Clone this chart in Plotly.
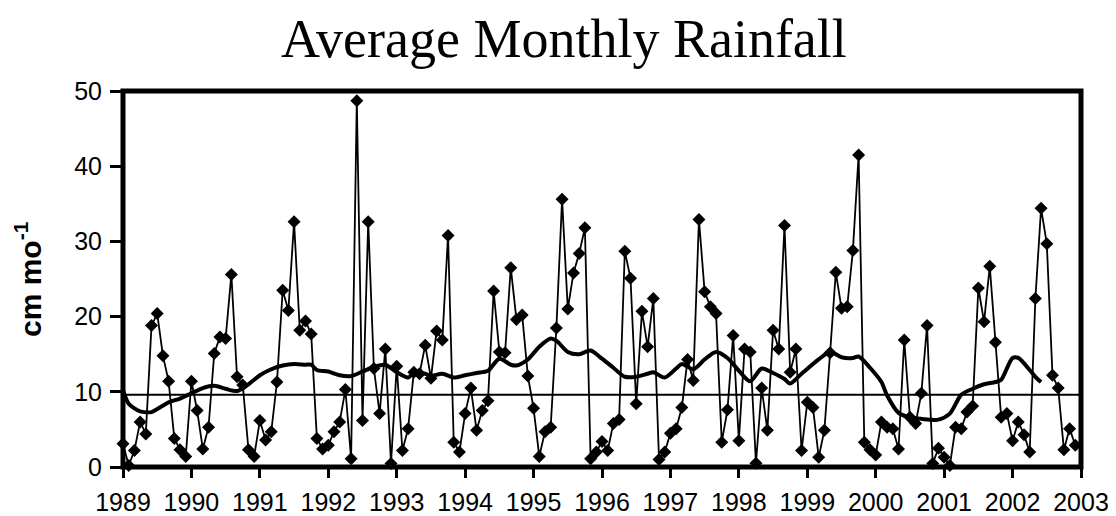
import plotly.graph_objects as go

# Monthly rainfall (cm/mo), Jan 1989 .. Dec 2002, month index 0..167
rain = [3.1, 0.2, 2.2, 6.0, 4.4, 18.8, 20.4, 14.8, 11.4, 3.8, 2.3, 1.4,
        11.4, 7.5, 2.4, 5.3, 15.1, 17.3, 17.1, 25.6, 12.0, 10.9, 2.3, 1.4,
        6.2, 3.6, 4.7, 11.3, 23.5, 20.8, 32.6, 18.2, 19.4, 17.7, 3.8, 2.4,
        2.9, 4.7, 6.0, 10.3, 1.1, 48.7, 6.2, 32.6, 13.1, 7.1, 15.7, 0.45,
        13.4, 2.2, 5.1, 12.6, 12.4, 16.2, 11.8, 18.1, 16.9, 30.8, 3.3, 2.0,
        7.1, 10.5, 4.9, 7.5, 8.8, 23.4, 15.3, 15.2, 26.5, 19.6, 20.2, 12.1,
        7.8, 1.4, 4.7, 5.3, 18.5, 35.6, 21.0, 25.8, 28.4, 31.8, 1.1, 2.0,
        3.4, 2.2, 5.8, 6.3, 28.7, 25.1, 8.4, 20.7, 16.0, 22.4, 1.0, 2.0,
        4.5, 5.1, 7.9, 14.3, 11.5, 32.9, 23.3, 21.3, 20.4, 3.3, 7.6, 17.5,
        3.5, 15.7, 15.3, 0.5, 10.5, 4.9, 18.2, 15.7, 32.1, 12.6, 15.7, 2.2,
        8.6, 7.9, 1.3, 4.9, 15.2, 25.9, 21.1, 21.3, 28.8, 41.5, 3.3, 2.3,
        1.6, 6.0, 5.3, 5.1, 2.4, 16.9, 6.6, 5.8, 9.8, 18.8, 0.45, 2.5,
        1.3, 0.2, 5.3, 5.1, 7.3, 8.1, 23.8, 19.3, 26.7, 16.6, 6.6, 7.1,
        3.5, 6.0, 4.3, 2.0, 22.4, 34.4, 29.7, 12.2, 10.5, 2.3, 5.1, 2.9]
months = list(range(len(rain)))

# Smoothed (running mean) curve
smooth_x = [0, 1, 2, 3, 5, 6, 8, 10, 12, 14, 16, 18, 20, 22, 24, 26, 28, 30, 32, 33,
            34, 36, 38, 40, 42, 44, 46, 48, 50, 51, 53, 54, 56, 58, 60, 62, 64, 66,
            68, 69, 71, 73, 75, 76, 78, 80, 82, 84, 86, 88, 90, 92, 93, 95, 97, 98,
            100, 102, 104, 106, 108, 110, 112, 114, 116, 117, 119, 122, 124, 126,
            128, 129, 131, 133, 134, 136, 138, 140, 143, 145, 147, 149, 151, 153,
            154, 156, 157, 159, 160, 161]
smooth_y = [10.2, 8.4, 7.8, 7.4, 7.3, 7.7, 8.6, 9.1, 9.8, 10.5, 10.8, 10.4, 10.1, 11.0,
            12.2, 13.0, 13.5, 13.7, 13.6, 13.6, 12.9, 12.7, 12.2, 12.1, 12.7, 13.3,
            13.6, 12.6, 11.9, 12.5, 12.4, 12.1, 12.4, 11.9, 12.2, 12.5, 12.8, 14.4,
            13.6, 13.5, 14.3, 16.0, 17.1, 16.8, 15.3, 15.0, 15.5, 14.4, 13.2, 12.0,
            12.0, 12.4, 12.6, 11.9, 13.1, 13.7, 13.0, 14.3, 15.3, 14.5, 12.8, 11.4,
            13.1, 12.5, 11.7, 11.1, 12.4, 14.3, 15.3, 14.6, 14.5, 14.7, 13.2, 11.3,
            9.5, 7.2, 6.6, 6.4, 6.3, 7.1, 9.6, 10.4, 11.0, 11.3, 11.6, 14.5, 14.5,
            12.9, 12.0, 11.3]

mean_level = 9.6
year_ticks = [0, 12, 24, 36, 48, 60, 72, 84, 96, 108, 120, 132, 144, 156, 168]
year_labels = ["1989", "1990", "1991", "1992", "1993", "1994", "1995", "1996",
               "1997", "1998", "1999", "2000", "2001", "2002", "2003"]
y_ticks = [0, 10, 20, 30, 40, 50]

x_min, x_max = year_ticks[0], year_ticks[-1]
y_min, y_max = y_ticks[0], y_ticks[-1]

# The page body adds an 8 px offset, so the figure is 8 px smaller than the window
W, H = 1108, 508
ML, MR, MT, MB = 115, 35, 83, 49
PW, PH = W - ML - MR, H - MT - MB

fig = go.Figure()
fig.add_trace(go.Scatter(x=[x_min, x_max], y=[mean_level, mean_level],
                         mode="lines", line=dict(color="black", width=2),
                         hoverinfo="skip", showlegend=False))
fig.add_trace(go.Scatter(x=months, y=rain, mode="lines+markers",
                         line=dict(color="black", width=1.8),
                         marker=dict(symbol="diamond", size=10, color="black"),
                         cliponaxis=False, showlegend=False))
fig.add_trace(go.Scatter(x=smooth_x, y=smooth_y, mode="lines",
                         line=dict(color="black", width=4, shape="spline", smoothing=0.8),
                         showlegend=False))

fig.update_layout(
    width=W, height=H,
    margin=dict(l=ML, r=MR, t=MT, b=MB, autoexpand=False),
    paper_bgcolor="white", plot_bgcolor="white",
    font=dict(family="Liberation Sans, Arial", color="black", size=25),
    shapes=[dict(type="rect", xref="paper", yref="paper", x0=0, x1=1, y0=0, y1=1,
                 line=dict(color="black", width=5), fillcolor="rgba(0,0,0,0)", layer="above")],
    annotations=[
        dict(text="Average Monthly Rainfall", xref="paper", yref="paper",
             x=(556 - ML) / PW, y=1 + (MT - 31) / PH, xanchor="center", yanchor="middle",
             showarrow=False, font=dict(family="Liberation Serif, Times New Roman", size=54, color="black")),
        dict(text="<b>cm mo<sup>-1</sup></b>", xref="paper", yref="paper",
             x=(20 - ML) / PW, y=0.5, xanchor="center", yanchor="middle", textangle=-90,
             showarrow=False, font=dict(family="Liberation Sans, Arial", size=30, color="black")),
    ],
)
fig.update_xaxes(range=[x_min, x_max], tickvals=year_ticks, ticktext=year_labels,
                 showgrid=False, zeroline=False, showline=False, automargin=False,
                 ticks="outside", ticklen=10, tickwidth=3, tickcolor="black",
                 ticklabelstandoff=3, tickfont=dict(size=25))
fig.update_yaxes(range=[y_min, y_max], tickvals=y_ticks,
                 showgrid=False, zeroline=False, showline=False, automargin=False,
                 ticks="outside", ticklen=12, tickwidth=3, tickcolor="black",
                 ticklabelstandoff=3, tickfont=dict(size=25))

fig.write_html("out.html")
